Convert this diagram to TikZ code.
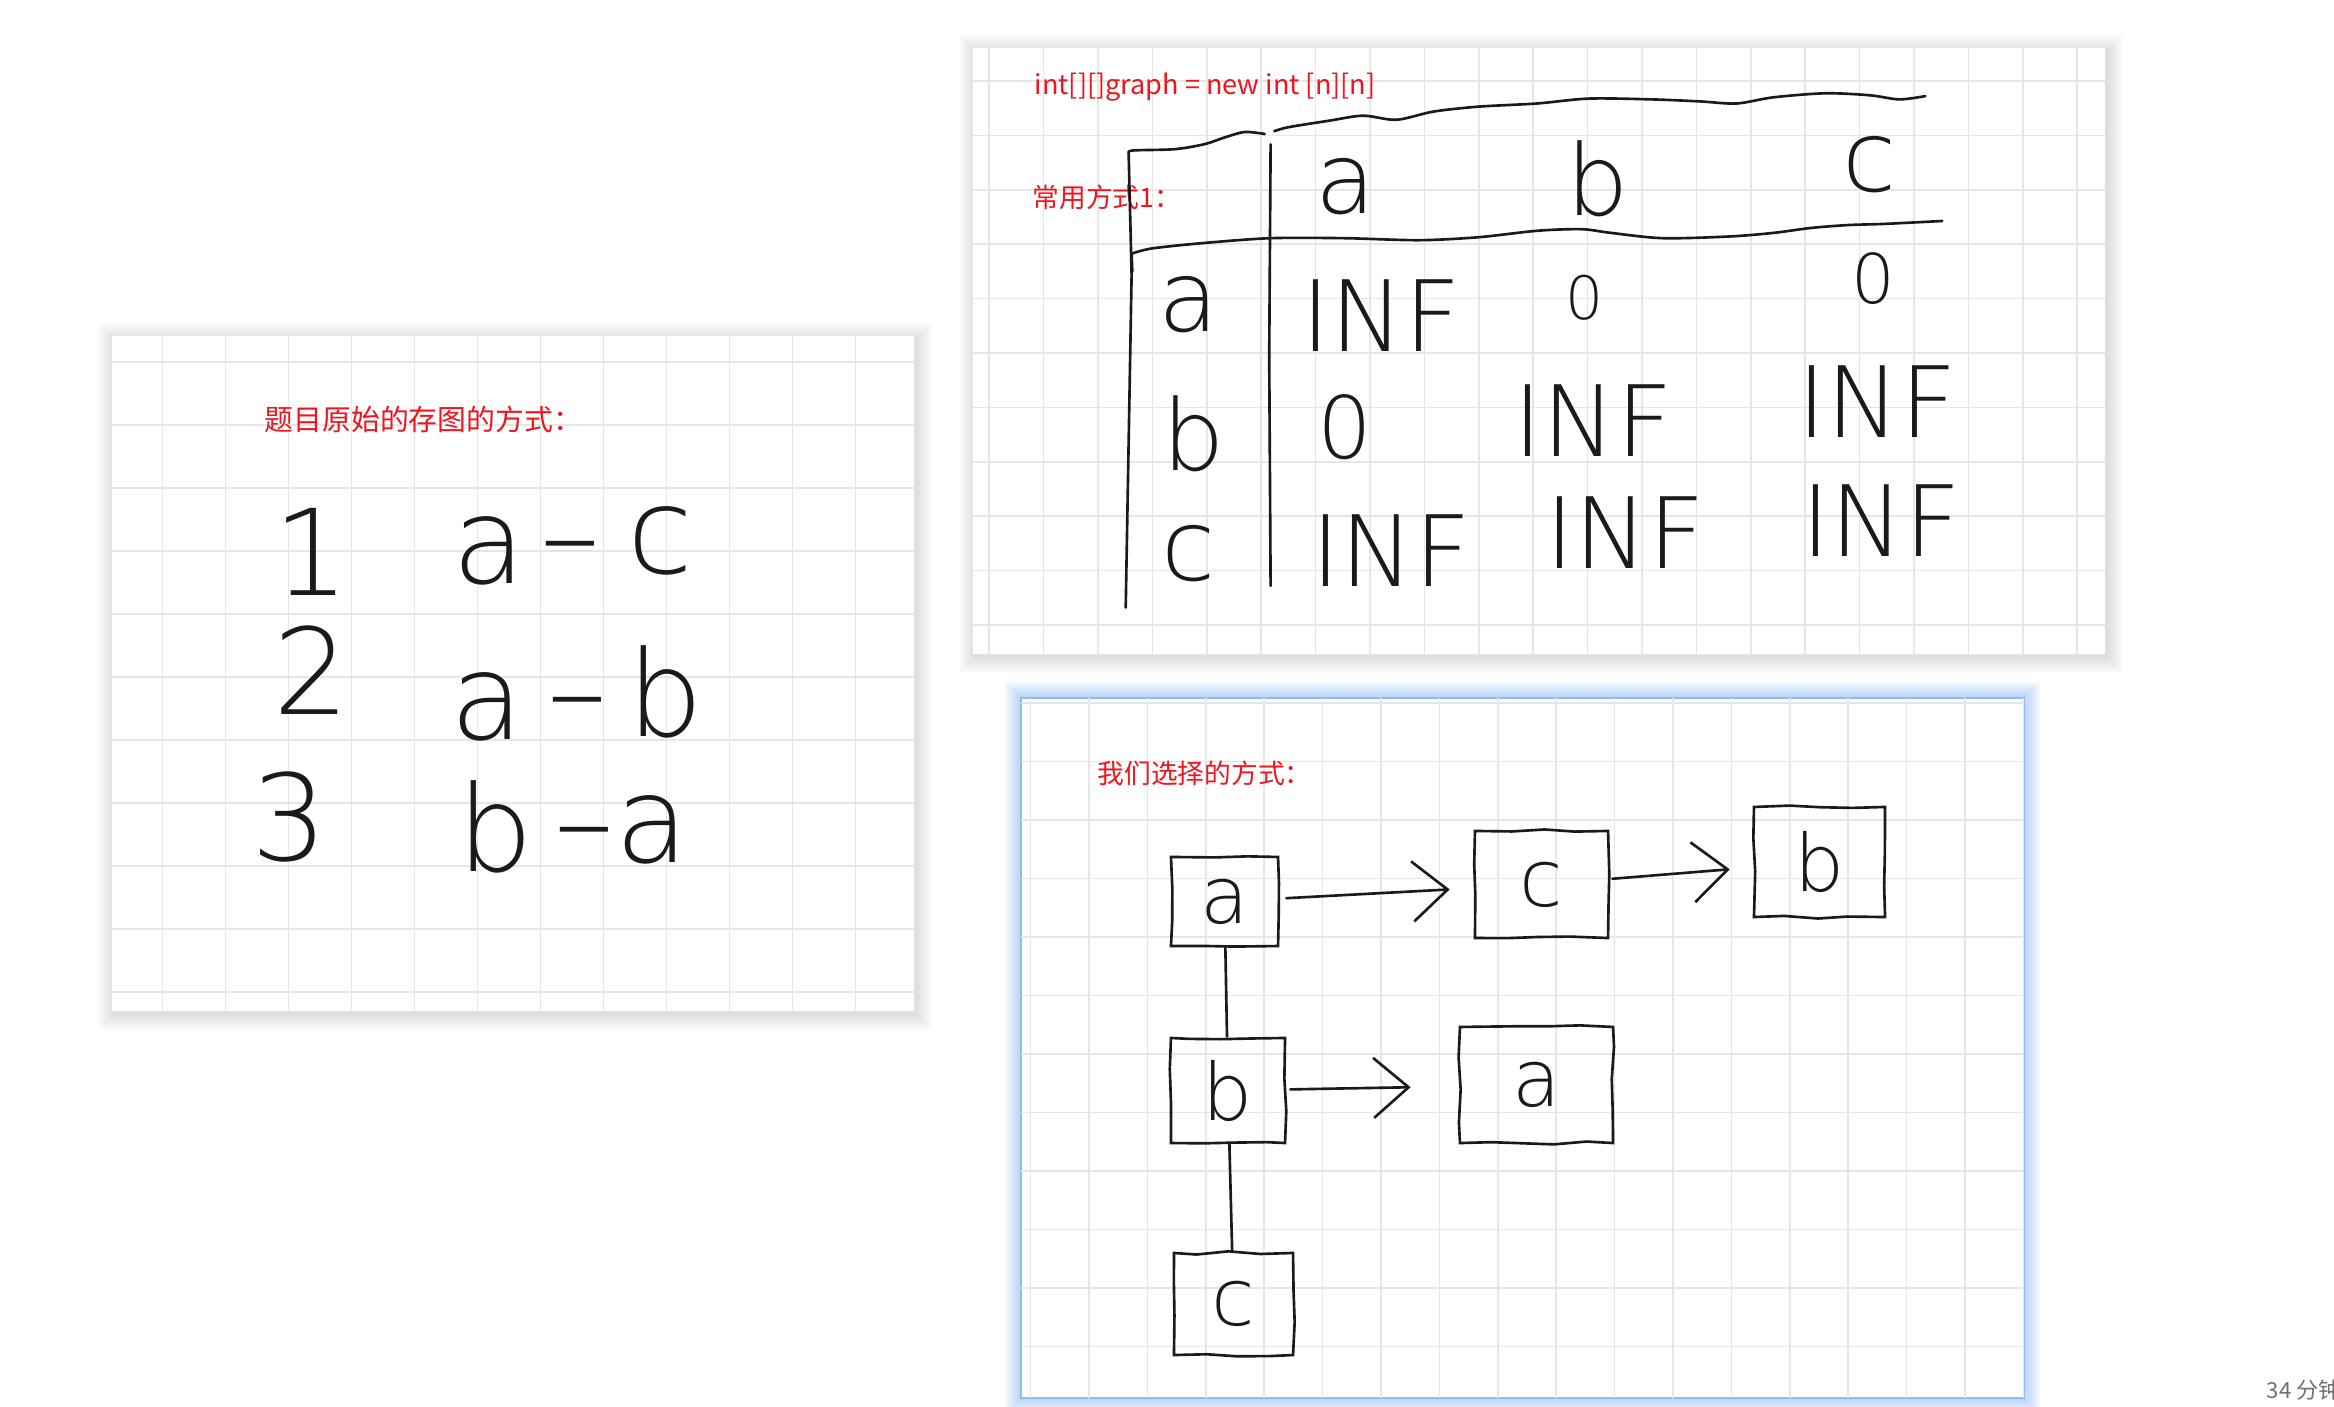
\documentclass[tikz,border=0pt]{standalone}
\usepackage{fontspec}
\newfontfamily\cjk{Noto Sans CJK SC}
\newfontfamily\hand{DejaVu Sans}[UprightFont={* ExtraLight}]
\usetikzlibrary{arrows.meta,decorations.pathmorphing}
\definecolor{Ink}{HTML}{1A1A1A}
\definecolor{Note}{HTML}{F0141E}
\definecolor{Grid}{HTML}{E6E6E6}
\definecolor{Glow}{HTML}{8DBBF5}
\definecolor{Stamp}{HTML}{707070}
\tikzset{
  gridline/.style={draw=Grid,line width=0.45pt},
  pen/.style={draw=Ink,line width=0.75pt,line cap=round,line join=round},
  note/.style={anchor=west,inner sep=0pt,text=Note},
  bigpen/.style={anchor=base,inner sep=0pt,text=Ink,font=\hand\fontsize{34}{40}\selectfont},
  midpen/.style={anchor=base,inner sep=0pt,text=Ink,font=\hand\fontsize{28}{34}\selectfont},
  listbox/.style={draw=Ink,line width=0.75pt,inner sep=0pt,text=Ink,font=\hand\fontsize{22.5}{26}\selectfont,
    decorate,decoration={random steps,segment length=9pt,amplitude=0.5pt}},
  link/.style={-{Straight Barb[length=3.5mm,width=6mm]},draw=Ink,line width=0.75pt,line cap=round},
}
\pgfmathsetseed{11}

\begin{document}
\begin{tikzpicture}[x=0.01cm,y=-0.01cm]
  \useasboundingbox (0,0) rectangle (2334,1407);
  \fill[white] (0,0) rectangle (2334,1407);

  % soft shadows round the three sheets
  \foreach \k in {1,...,8}{
    \draw[black,opacity=0.014,line width=\k*0.4mm] (114,339) rectangle (916,1014);
    \draw[black,opacity=0.014,line width=\k*0.4mm] (975,51) rectangle (2107,657);
    \draw[Glow,opacity=0.09,line width=\k*0.4mm] (1021,698) rectangle (2024,1398);
  }
  \fill[white] (112,336) rectangle (914,1011);
  \fill[white] (973,48) rectangle (2105,654);
  \fill[white] (1021,698) rectangle (2024,1398);
  \draw[Glow,line width=0.6pt] (1021,698) rectangle (2024,1398);

  % grids
  \begin{scope}
    \clip (112,336) rectangle (914,1011);
    \foreach \gx in {162.5,225.5,...,914} \draw[gridline] (\gx,336) -- (\gx,1011);
    \foreach \gy in {362,425,...,1011} \draw[gridline] (112,\gy) -- (914,\gy);
  \end{scope}
  \begin{scope}
    \clip (973,48) rectangle (2105,654);
    \foreach \gx in {989.2,1043.6,...,2105} \draw[gridline] (\gx,48) -- (\gx,654);
    \foreach \gy in {81,135.4,...,654} \draw[gridline] (973,\gy) -- (2105,\gy);
  \end{scope}
  \begin{scope}
    \clip (1021,698) rectangle (2024,1398);
    \foreach \gx in {1030.6,1089,...,2024} \draw[gridline] (\gx,698) -- (\gx,1398);
    \foreach \gy in {703,761.5,...,1398} \draw[gridline] (1021,\gy) -- (2024,\gy);
  \end{scope}

  % sheet 1: edge list
  \node[note,font=\cjk\fontsize{8.2}{10}\selectfont] (title1) at (264,419) {题目原始的存图的方式：};
  \node[bigpen] (n1) at (312,596) {1};
  \node[bigpen] (e1u) at (489,584) {a};
  \node[bigpen] (e1d) at (570,577) {–};
  \node[bigpen] (e1v) at (660,574) {c};
  \node[bigpen] (n2) at (312,715) {2};
  \node[bigpen] (e2u) at (487,740) {a};
  \node[bigpen] (e2d) at (577,733) {–};
  \node[bigpen] (e2v) at (665,737) {b};
  \node[bigpen] (n3) at (290,860) {3};
  \node[bigpen] (e3u) at (495,871) {b};
  \node[bigpen] (e3d) at (584,863) {–};
  \node[bigpen] (e3v) at (652,862) {a};

  % sheet 2: matrix
  \node[note,font=\cjk\fontsize{7.7}{9}\selectfont] (title2) at (1034,87) {int[][]graph = new int [n][n]};
  \node[note,font=\cjk\fontsize{7.6}{9}\selectfont] (title2b) at (1032,197) {常用方式1：};
  \draw[pen] plot[smooth] coordinates {(1128.6,152.4) (1133.8,150.4) (1174.5,149.2) (1204,144.3) (1226,137) (1244.8,132) (1264.7,134)};
  \draw[pen] plot[smooth] coordinates {(1274.3,131.2) (1289,127.1) (1329.8,120.6) (1363,115.7) (1396.4,119.8) (1433.4,111.6) (1477.8,106.7) (1537,103.5) (1588.7,98.6) (1651.6,99.4) (1699.6,101.4) (1736.6,103.5) (1773.6,97.3) (1825.4,93.3) (1869.8,95.3) (1899.3,99.4) (1925.3,96.1)};
  \draw[pen] plot[smooth] coordinates {(1131.6,253.7) (1152.3,248.4) (1204,243) (1270.6,238.2) (1344.6,238.2) (1418.6,240.2) (1477.8,237.3) (1537,230.8) (1581.3,229.2) (1610.9,232.9) (1662.7,238.2) (1729.2,236.5) (1773.6,232.9) (1810.6,228) (1847.6,225.1) (1884.6,223.9) (1942.2,221)};
  \draw[pen] (1131.6,253.7) -- (1132.3,271.6);
  \draw[pen] (1128.6,152.4) -- (1131.6,274.9) -- (1125.7,607.6);
  \draw[pen] (1270.6,144.3) -- (1269.2,356.5) -- (1270.6,585.9);
  \node[midpen] (ca) at (1346,214) {a};
  \node[midpen] (cb) at (1598,216) {b};
  \node[midpen] (cc) at (1870,192) {c};
  \node[midpen] (ra) at (1189,332) {a};
  \node[midpen] (rb) at (1194,471) {b};
  \node[midpen] (rc) at (1189,581) {c};
  \node[midpen] (aa) at (1381,352) {INF};
  \node[midpen,font=\hand\fontsize{17}{20}\selectfont] (ab) at (1584,320) {0};
  \node[midpen,font=\hand\fontsize{19.5}{23}\selectfont] (ac) at (1873,304) {0};
  \node[midpen,font=\hand\fontsize{24.5}{29}\selectfont] (ba) at (1345,459) {0};
  \node[midpen] (bb) at (1593,457) {INF};
  \node[midpen] (bc) at (1877,438) {INF};
  \node[midpen] (ca2) at (1391,587) {INF};
  \node[midpen] (cb2) at (1625,569) {INF};
  \node[midpen] (cc2) at (1881,557) {INF};

  % sheet 3: adjacency lists
  \node[note,font=\cjk\fontsize{7.6}{9}\selectfont] (title3) at (1097,773) {我们选择的方式：};
  \node[listbox,minimum width=1.07cm,minimum height=0.89cm] (a1) at (1224.5,901.5) {a};
  \node[listbox,minimum width=1.33cm,minimum height=1.07cm] (c1) at (1541.5,884.5) {c};
  \node[listbox,minimum width=1.31cm,minimum height=1.10cm] (b1) at (1819.5,862) {b};
  \node[listbox,minimum width=1.14cm,minimum height=1.05cm] (b2) at (1228,1090.5) {b};
  \node[listbox,minimum width=1.53cm,minimum height=1.16cm] (a2) at (1536.5,1085) {a};
  \node[listbox,minimum width=1.19cm,minimum height=1.02cm] (c2) at (1233.5,1304) {c};
  \draw[link,shorten <=0.7mm,shorten >=2.4mm] (a1) -- (c1);
  \draw[link,shorten <=0.3mm,shorten >=2.3mm] (c1) -- (b1);
  \draw[link,shorten <=0.4mm,shorten >=4.8mm] (b2) -- (a2);
  \draw[pen] (a1) -- (b2);
  \draw[pen] (b2) -- (c2);

  \node[anchor=west,inner sep=0pt,text=Stamp,font=\cjk\fontsize{6.3}{8}\selectfont] (stamp) at (2266,1390) {34 分钟};
\end{tikzpicture}
\end{document}
